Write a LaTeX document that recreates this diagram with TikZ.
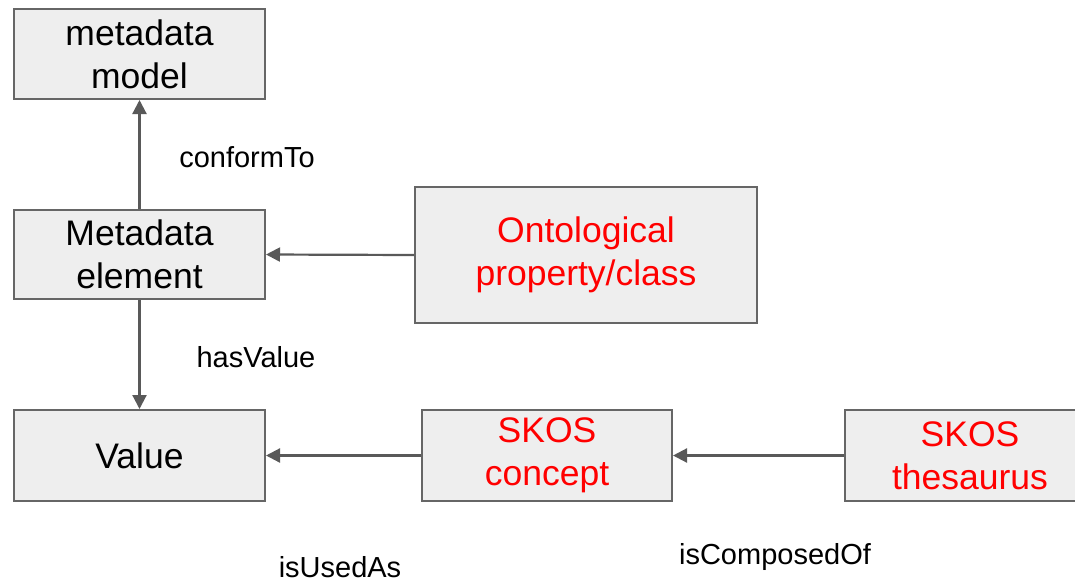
\documentclass[tikz,border=0pt]{standalone}
\usepackage{fontspec}
\setmainfont{Liberation Sans}
\usetikzlibrary{arrows.meta}
\definecolor{boxfill}{HTML}{EEEEEE}
\definecolor{boxline}{HTML}{666666}
\definecolor{arrowgray}{HTML}{595959}
\definecolor{textred}{HTML}{FF0000}
\tikzset{
  box/.style={draw=boxline, line width=2pt, fill=boxfill, rectangle, align=center,
    inner sep=0pt, font=\fontsize{35.5}{43}\selectfont},
  redtext/.style={text=textred},
  conn/.style={draw=arrowgray, line width=2.2pt, -{Triangle[length=14pt,width=14pt]}},
  lbl/.style={font=\fontsize{29}{34}\selectfont, inner sep=0pt}
}
\begin{document}
\begin{tikzpicture}[x=1pt,y=-1pt]
\useasboundingbox (0,0) rectangle (1075,584);
\clip (0,0) rectangle (1075,584);
\node[box, minimum width=251pt, minimum height=90pt] (model) at (139.5,54) {metadata\\model};
\node[box, minimum width=251pt, minimum height=89pt] (elem) at (139.5,254.5) {Metadata\\element};
\node[box, minimum width=251pt, minimum height=91pt] (value) at (139.5,455.5) {Value};
\node[box, redtext, minimum width=342pt, minimum height=136pt] (onto) at (586,255) {Ontological\\property/class};
\node[box, redtext, minimum width=250pt, minimum height=91pt] (concept) at (547,455.5) {SKOS\\concept};
\node[box, redtext, minimum width=250pt, minimum height=91pt] (thes) at (970,455.5) {SKOS\\thesaurus};
\draw[conn] (elem.north) -- (model.south);
\draw[conn] (onto.west) -- (elem.east);
\draw[conn] (elem.south) -- (value.north);
\draw[conn] (concept.west) -- (value.east);
\draw[conn] (thes.west) -- (concept.east);
\node[lbl] (l1) at (247,157) {conformTo};
\node[lbl] (l2) at (256,357) {hasValue};
\node[lbl] (l3) at (340,567) {isUsedAs};
\node[lbl] (l4) at (775,557) {isComposedOf};
\end{tikzpicture}
\end{document}
